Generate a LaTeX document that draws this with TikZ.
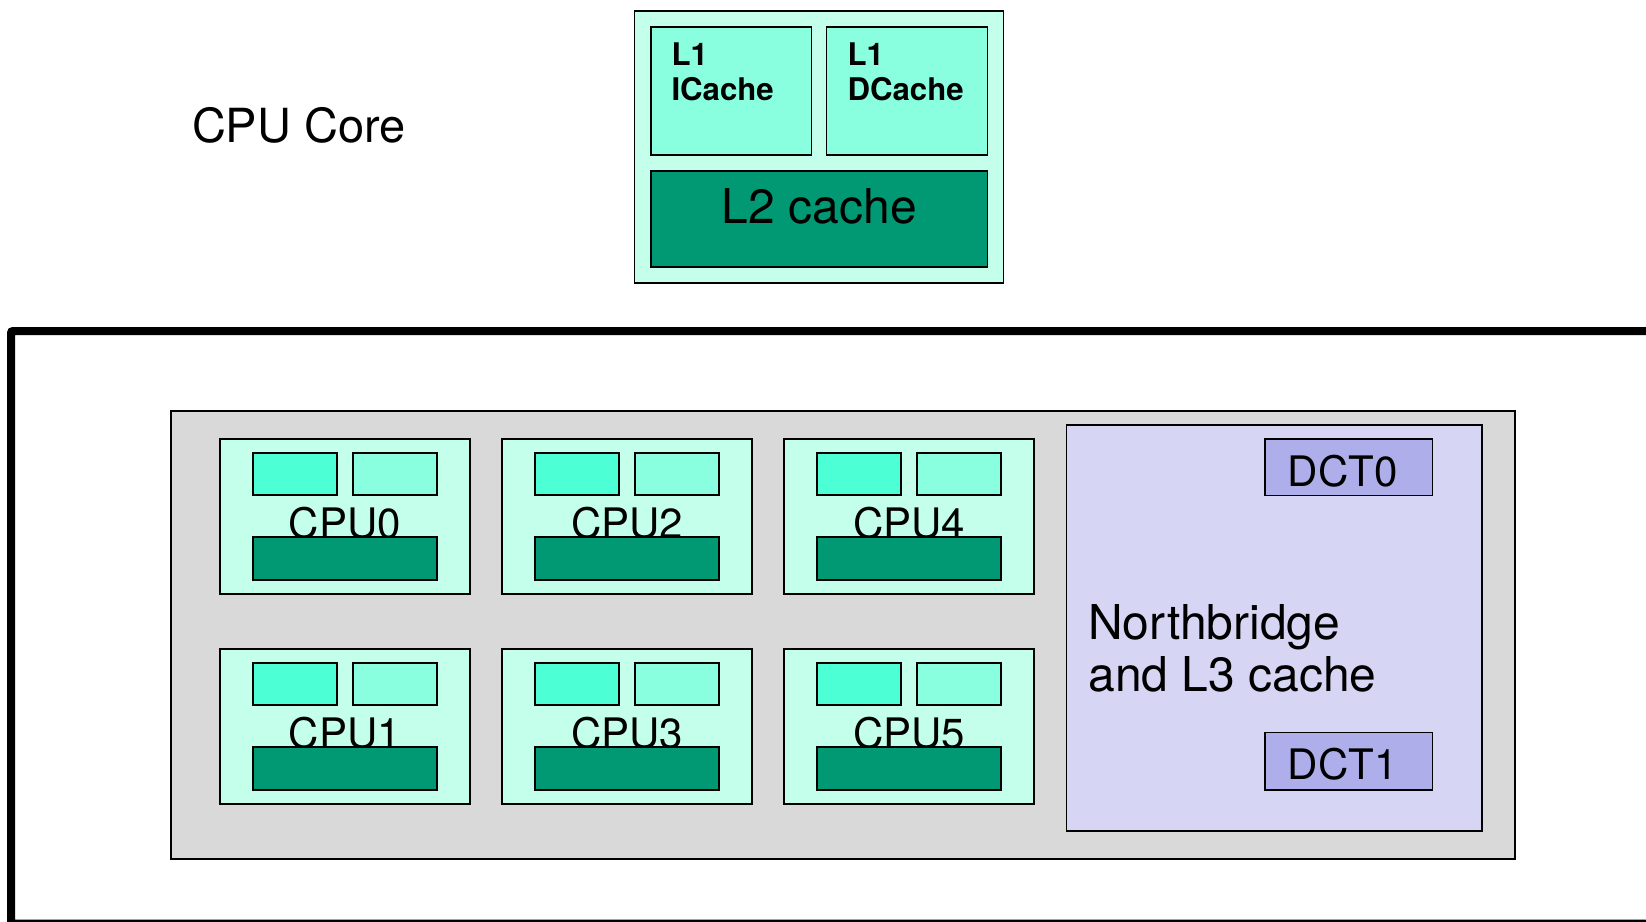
\documentclass[tikz,border=0pt]{standalone}
\usepackage{fontspec}
\setmainfont{TeX Gyre Heros}
\definecolor{tilefill}{HTML}{C4FFEC}
\definecolor{icache}{HTML}{4DFFD4}
\definecolor{dcache}{HTML}{89FFE0}
\definecolor{ltwo}{HTML}{009973}
\definecolor{chipgray}{HTML}{D9D9D9}
\definecolor{nbfill}{HTML}{D6D6F4}
\definecolor{dctfill}{HTML}{AEAEEB}
\tikzset{
  box/.style={draw=black, line width=1.5pt, inner sep=0pt, outer sep=0pt, anchor=north west},
  txt/.style={inner sep=0pt, outer sep=0pt, text=black},
}
\begin{document}
\begin{tikzpicture}[x=1pt, y=-1pt]
\useasboundingbox (0,0) rectangle (1646,921);
\clip (0,0) rectangle (1646,921);
\fill[white] (0,0) rectangle (1646,921);

% Single core detail
\node[txt, anchor=base west, font=\fontsize{47}{52}\selectfont] (corelabel) at (192,142.7) {CPU Core};
\node[box, fill=tilefill, minimum width=368.6pt, minimum height=272pt] (core) at (634.7,11) {};
\node[box, fill=dcache, minimum width=160.7pt, minimum height=128pt] (l1i) at (651,27) {};
\node[box, fill=dcache, minimum width=161pt, minimum height=128pt] (l1d) at (826.7,27) {};
\node[box, fill=ltwo, minimum width=336.7pt, minimum height=96pt] (l2) at (651,171) {};
% base anchor of a two-line node sits on its last line
\node[txt, anchor=base west, align=left, font=\fontsize{31.2}{35}\selectfont\bfseries] (l1itext) at (671.5,100) {L1\\ICache};
\node[txt, anchor=base west, align=left, font=\fontsize{31.2}{35}\selectfont\bfseries] (l1dtext) at (847.5,100) {L1\\DCache};
\node[txt, anchor=base, font=\fontsize{48}{52}\selectfont] (l2text) at (819.3,223) {L2 cache};

% Package outline
\node[draw=black, line width=8pt, rounded corners=2pt, inner sep=0pt, outer sep=0pt, anchor=north west,
      minimum width=1680pt, minimum height=592.5pt] (package) at (11,331) {};

% Die
\node[box, fill=chipgray, minimum width=1344pt, minimum height=448pt] (die) at (171,411) {};

% Six cores
\foreach \c/\r/\k in {0/0/0,0/1/1,1/0/2,1/1/3,2/0/4,2/1/5}{
  \pgfmathsetmacro\tx{220+282*\c}
  \pgfmathsetmacro\ty{439+210*\r}
  \node[box, fill=tilefill, minimum width=250pt, minimum height=155pt] (cpu\k) at (\tx,\ty) {};
  \node[box, fill=icache, minimum width=84pt, minimum height=42pt] (cpu\k i) at (\tx+33,\ty+14) {};
  \node[box, fill=dcache, minimum width=84pt, minimum height=42pt] (cpu\k d) at (\tx+133,\ty+14) {};
  \node[txt, anchor=base, font=\fontsize{42}{46}\selectfont] (cpu\k label) at (\tx+125,\ty+99.5) {CPU\k};
  \node[box, fill=ltwo, minimum width=184pt, minimum height=43pt] (cpu\k l2) at (\tx+33,\ty+98) {};
}

% Northbridge and memory controllers
\node[box, fill=nbfill, minimum width=415.3pt, minimum height=406pt] (nb) at (1066.7,425) {};
\node[txt, anchor=base west, align=left, font=\fontsize{48}{52}\selectfont] (nbtext) at (1088.3,691) {Northbridge\\and L3 cache};
\node[box, fill=dctfill, minimum width=167.3pt, minimum height=56.3pt] (dct0) at (1265,439) {};
\node[box, fill=dctfill, minimum width=167.3pt, minimum height=57.3pt] (dct1) at (1265,732.7) {};
\node[txt, anchor=base west, font=\fontsize{42}{46}\selectfont] (dct0text) at (1287.7,486.7) {DCT0};
\node[txt, anchor=base west, font=\fontsize{42}{46}\selectfont] (dct1text) at (1287.7,779) {DCT1};
\end{tikzpicture}
\end{document}
